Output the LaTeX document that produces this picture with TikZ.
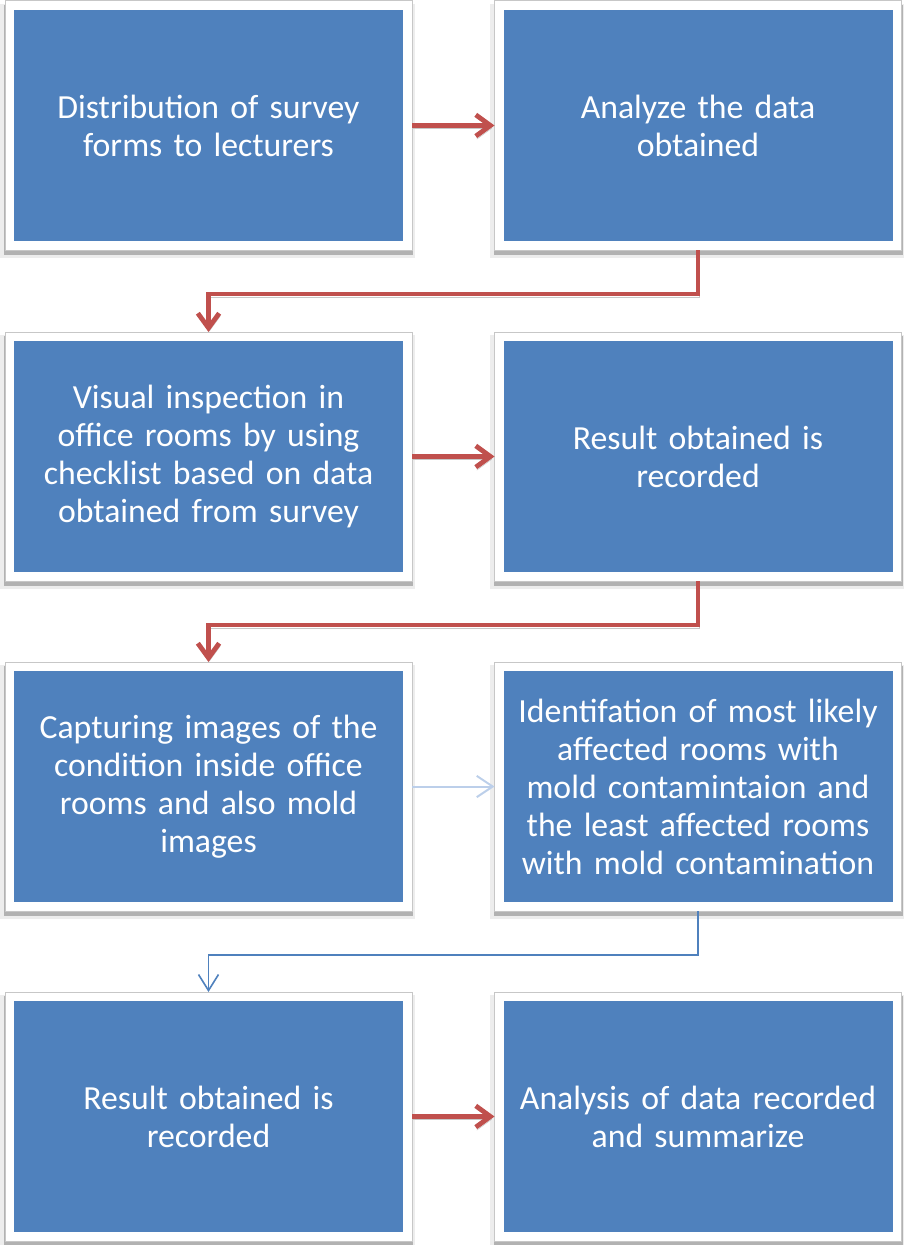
\documentclass[tikz,border=0pt]{standalone}
\usepackage{fontspec}
\setmainfont{Carlito}
\usetikzlibrary{arrows.meta,calc,backgrounds}
\definecolor{boxblue}{HTML}{4F81BD}
\definecolor{arrred}{HTML}{C0504D}
\definecolor{paleblue}{HTML}{BCCFEA}
\begin{document}
\begin{tikzpicture}[x=0.75pt,y=-0.75pt,
  stepbox/.style={fill=boxblue, text=white, minimum width=291.75pt,
    minimum height=173.25pt, inner sep=0pt, outer sep=6.75pt,
    text width=286pt, align=center,
    font=\fontsize{25.3pt}{28.5pt}\selectfont},
  redarrow/.style={draw=arrred, line width=3.6pt, line join=miter,
    -{Straight Barb[length=11pt,width=16pt]},
    preaction={draw=black!22, transform canvas={xshift=0.75pt,yshift=-2.25pt}}},
  palearrow/.style={draw=paleblue, line width=1.5pt,
    -{Straight Barb[length=12pt,width=16pt]}},
  bluearrow/.style={draw=boxblue, line width=1.2pt,
    -{Straight Barb[length=12pt,width=15pt]}}]
\useasboundingbox (0,0) rectangle (903,1245);

% process steps
\node[stepbox] (a1) at (208.5,125.5) {Distribution of survey\\forms to lecturers};
\node[stepbox] (a2) at (698,125.5) {Analyze the data\\obtained};
\node[stepbox] (b1) at (208.5,456.5) {Visual inspection in\\office rooms by using\\checklist based on data\\obtained from survey};
\node[stepbox] (b2) at (698,456.5) {Result obtained is\\recorded};
\node[stepbox] (c1) at (208.5,786.5) {Capturing images of the\\condition inside office\\rooms and also mold\\images};
\node[stepbox] (c2) at (698,786.5) {Identifation of most likely\\affected rooms with\\mold contamintaion and\\the least affected rooms\\with mold contamination};
\node[stepbox] (d1) at (208.5,1116.5) {Result obtained is\\recorded};
\node[stepbox] (d2) at (698,1116.5) {Analysis of data recorded\\and summarize};

% white frames with drop shadows behind each step
\begin{scope}[on background layer]
\foreach \n in {a1,a2,b1,b2,c1,c2,d1,d2}{
  \fill[black!7] ($(\n.north west)+(-5,3)$) rectangle ($(\n.south east)+(3,8)$);
  \fill[black!30] ($(\n.north west)+(-1,4)$) rectangle ($(\n.south east)+(1,5)$);
  \filldraw[fill=white, draw=black!22, line width=0.75pt]
    (\n.north west) rectangle (\n.south east);
}
\end{scope}

% connectors
\draw[redarrow] (a1.east) -- (a2.west);
\draw[redarrow] (a2.south) -- ++(0,44) -| (b1.north);
\draw[redarrow] (b1.east) -- (b2.west);
\draw[redarrow] (b2.south) -- ++(0,44) -| (c1.north);
\draw[palearrow] (c1.east) -- (c2.west);
\draw[bluearrow] (c2.south) -- ++(0,44) -| (d1.north);
\draw[redarrow] (d1.east) -- (d2.west);
\end{tikzpicture}
\end{document}
